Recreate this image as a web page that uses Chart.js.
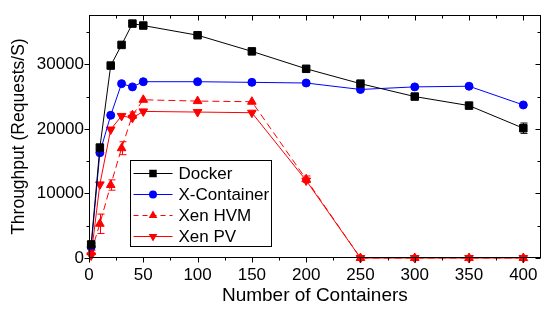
<!DOCTYPE html>
<html>
<head>
<meta charset="utf-8">
<script src="https://cdn.jsdelivr.net/npm/chart.js@4/dist/chart.umd.min.js"></script>
<style>
  html, body { margin: 0; padding: 0; background: #fff; }
</style>
</head>
<body>
<canvas id="lineChart" width="547" height="309"></canvas>
<script>
// values
var containers = [2, 10, 20, 30, 40, 50, 100, 150, 200, 250, 300, 350, 400];
var docker     = [2100, 17100, 29800, 33000, 36300, 36000, 34500, 32000, 29300, 27000, 25000, 23600, 20100];
var xContainer = [1700, 16300, 22100, 27000, 26500, 27300, 27300, 27200, 27100, 26100, 26500, 26600, 23700];
var xenHvm     = [900, 5300, 11300, 17000, 22100, 24500, 24300, 24200, 12200, 0, 0, 0, 0];
var xenPv      = [400, 11400, 19900, 22000, 21700, 22700, 22600, 22500, 12000, 0, 0, 0, 0];
var dockerErr  = [200, 0, 0, 0, 0, 0, 0, 0, 0, 0, 0, 0, 800];
var hvmErr     = [300, 1500, 800, 1000, 500, 0, 0, 0, 500, 0, 0, 0, 0];
var pvErr      = [0, 0, 0, 0, 0, 0, 0, 0, 300, 0, 0, 0, 0];
var xTicks = [0, 25, 50, 75, 100, 125, 150, 175, 200, 225, 250, 275, 300, 325, 350, 375, 400];
var yTicks = [0, 5000, 10000, 15000, 20000, 25000, 30000, 35000];

var FONT = '"Liberation Sans", Arial, Helvetica, sans-serif';

function points(ys) {
  return containers.map((x, i) => ({x: x, y: ys[i]}));
}

// frame + inward/outward tick marks on all four sides
var frameTicks = {
  id: 'frameTicks',
  afterDraw: function(chart) {
    var ctx = chart.ctx, a = chart.chartArea;
    var xs = chart.scales.x, ys = chart.scales.y;
    var L = Math.round(a.left) + 0.5, R = Math.round(a.right) - 0.5;
    var T = Math.round(a.top) + 0.5, B = Math.round(a.bottom) - 0.5;
    ctx.save();
    ctx.strokeStyle = '#000';
    ctx.lineWidth = 1;
    ctx.strokeRect(L, T, R - L, B - T);
    ctx.beginPath();
    xTicks.forEach(function(v) {
      var len = v % 50 === 0 ? 5 : 3;
      var px = Math.round(xs.getPixelForValue(v)) + 0.5;
      ctx.moveTo(px, B); ctx.lineTo(px, B + len);
      ctx.moveTo(px, T); ctx.lineTo(px, T + len);
    });
    yTicks.forEach(function(v) {
      var len = v % 10000 === 0 ? 5 : 3;
      var py = Math.round(ys.getPixelForValue(v)) + 0.5;
      ctx.moveTo(L - len, py); ctx.lineTo(L, py);
      ctx.moveTo(R - len, py); ctx.lineTo(R, py);
    });
    ctx.stroke();
    ctx.restore();
  }
};

var errorBars = {
  id: 'errorBars',
  afterDatasetsDraw: function(chart) {
    var ctx = chart.ctx;
    var xs = chart.scales.x, ys = chart.scales.y;
    ctx.save();
    chart.data.datasets.forEach(function(ds) {
      if (!ds.errors) return;
      ctx.strokeStyle = ds.borderColor;
      ctx.lineWidth = 1;
      ctx.setLineDash([]);
      ds.errors.forEach(function(e, i) {
        if (!e) return;
        var px = Math.round(xs.getPixelForValue(containers[i])) + 0.5;
        var top = ys.getPixelForValue(ds.data[i].y + e);
        var bot = ys.getPixelForValue(ds.data[i].y - e);
        ctx.beginPath();
        ctx.moveTo(px, top); ctx.lineTo(px, bot);
        ctx.moveTo(px - 3, top); ctx.lineTo(px + 4, top);
        ctx.moveTo(px - 3, bot); ctx.lineTo(px + 4, bot);
        ctx.stroke();
      });
    });
    ctx.restore();
  }
};

function drawMarker(ctx, style, rot, x, y, r) {
  ctx.beginPath();
  if (style === 'rect') {
    var s = r * Math.SQRT1_2;
    ctx.rect(x - s, y - s, 2 * s, 2 * s);
  } else if (style === 'circle') {
    ctx.arc(x, y, r, 0, Math.PI * 2);
  } else {
    var d = rot ? -1 : 1;
    ctx.moveTo(x, y - d * r);
    ctx.lineTo(x - r * 0.866, y + d * r * 0.5);
    ctx.lineTo(x + r * 0.866, y + d * r * 0.5);
    ctx.closePath();
  }
  ctx.fill();
}

var boxLegend = {
  id: 'boxLegend',
  afterDatasetsDraw: function(chart) {
    var ctx = chart.ctx;
    var bx = 130.5, by = 160.5, bw = 141, bh = 86;
    ctx.save();
    ctx.fillStyle = '#fff';
    ctx.fillRect(bx, by, bw, bh);
    ctx.strokeStyle = '#000';
    ctx.lineWidth = 1;
    ctx.strokeRect(bx, by, bw, bh);
    ctx.font = '17px ' + FONT;
    ctx.textBaseline = 'middle';
    chart.data.datasets.forEach(function(ds, i) {
      var y = Math.round(by + 12 + i * 21.2) + 0.5;
      ctx.strokeStyle = ds.borderColor;
      ctx.setLineDash(ds.borderDash ? [5, 4] : []);
      ctx.beginPath();
      ctx.moveTo(bx + 3, y); ctx.lineTo(bx + 42, y);
      ctx.stroke();
      ctx.setLineDash([]);
      ctx.fillStyle = ds.pointBackgroundColor;
      drawMarker(ctx, ds.pointStyle, ds.pointRotation, bx + 22.5, y, ds.pointRadius);
      ctx.fillStyle = '#000';
      ctx.fillText(ds.label, bx + 48, y + 1);
    });
    ctx.restore();
  }
};

var ctx = document.getElementById('lineChart');
var lineChart = new Chart(ctx, {
  type: 'line',
  data: {
    datasets: [{
      label: 'Docker',
      data: points(docker),
      errors: dockerErr,
      borderColor: '#000000',
      backgroundColor: '#000000',
      pointBackgroundColor: '#000000',
      pointBorderColor: '#000000',
      borderWidth: 1,
      pointStyle: 'rect',
      pointRadius: 5.3,
      clip: false
    }, {
      label: 'X-Container',
      data: points(xContainer),
      borderColor: '#0000ff',
      backgroundColor: '#0000ff',
      pointBackgroundColor: '#0000ff',
      pointBorderColor: '#0000ff',
      borderWidth: 1,
      pointStyle: 'circle',
      pointRadius: 4,
      clip: false
    }, {
      label: 'Xen HVM',
      data: points(xenHvm),
      errors: hvmErr,
      borderColor: '#ff0000',
      backgroundColor: '#ff0000',
      pointBackgroundColor: '#ff0000',
      pointBorderColor: '#ff0000',
      borderWidth: 1,
      borderDash: [7, 4],
      pointStyle: 'triangle',
      pointRadius: 5,
      clip: false
    }, {
      label: 'Xen PV',
      data: points(xenPv),
      errors: pvErr,
      borderColor: '#ff0000',
      backgroundColor: '#ff0000',
      pointBackgroundColor: '#ff0000',
      pointBorderColor: '#ff0000',
      borderWidth: 1,
      pointStyle: 'triangle',
      pointRotation: 180,
      pointRadius: 5,
      clip: false
    }]
  },
  options: {
    responsive: false,
    animation: false,
    devicePixelRatio: 1,
    layout: { padding: { top: 7, right: 1, left: 0, bottom: 0 } },
    plugins: { legend: { display: false }, tooltip: { enabled: false } },
    elements: { line: { tension: 0 } },
    scales: {
      x: {
        type: 'linear',
        min: 0,
        max: 416,
        afterBuildTicks: function(scale) { scale.ticks = xTicks.map(v => ({value: v})); },
        afterFit: function(scale) { scale.height = 51; },
        grid: { display: false, drawTicks: false },
        border: { display: false },
        ticks: {
          autoSkip: false,
          maxRotation: 0,
          padding: 7,
          color: '#000',
          font: { family: FONT, size: 17 },
          callback: v => (v % 50 === 0 ? String(v) : '')
        },
        title: {
          display: true,
          text: 'Number of Containers',
          color: '#000',
          font: { family: FONT, size: 19 },
          padding: { top: 0, bottom: 2 }
        }
      },
      y: {
        min: 0,
        max: 37600,
        afterBuildTicks: function(scale) { scale.ticks = yTicks.map(v => ({value: v})); },
        afterFit: function(scale) { scale.width = 89; },
        grid: { display: false, drawTicks: false },
        border: { display: false },
        ticks: {
          autoSkip: false,
          padding: 5,
          color: '#000',
          font: { family: FONT, size: 17 },
          callback: v => (v % 10000 === 0 ? String(v) : '')
        },
        title: {
          display: true,
          text: 'Throughput (Requests/S)',
          color: '#000',
          font: { family: FONT, size: 17.5 },
          padding: { top: 9, bottom: 0 }
        }
      }
    }
  },
  plugins: [frameTicks, errorBars, boxLegend]
});
</script>
</body>
</html>
